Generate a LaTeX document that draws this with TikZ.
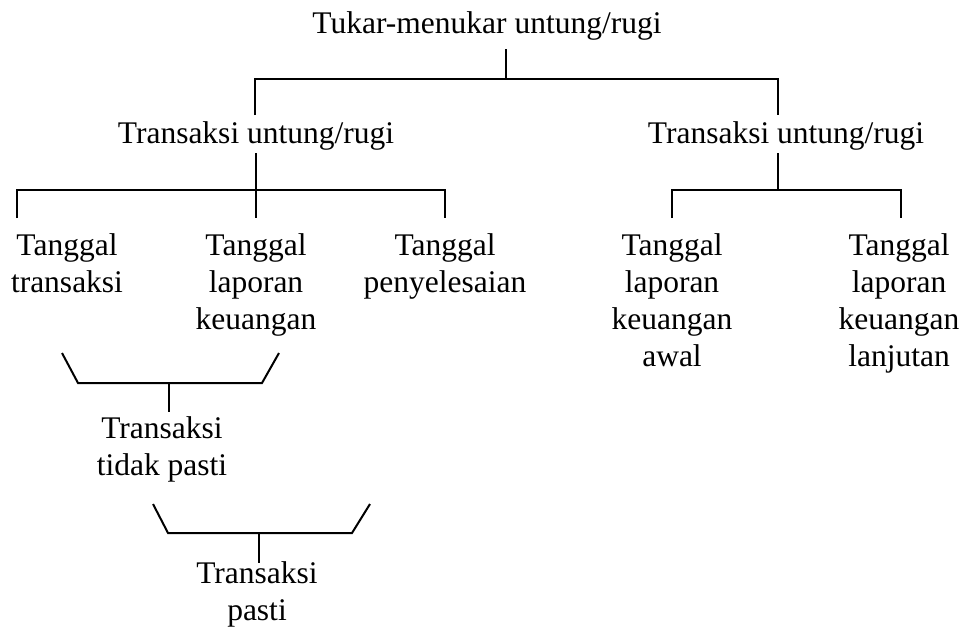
\documentclass[tikz,border=0pt]{standalone}
\usepackage{fontspec}
\setmainfont{Liberation Serif}
\begin{document}
\begin{tikzpicture}[x=1pt,y=-1pt,
  lbl/.style={anchor=base,align=center,inner sep=0pt,font=\fontsize{31.5}{37}\selectfont},
  conn/.style={line width=2pt,line cap=butt,line join=miter}]
\useasboundingbox (0,0) rectangle (964,630);
% texts (anchor = baseline of the last line)
\node[lbl] (root) at (487,33) {Tukar-menukar untung/rugi};
\node[lbl] (tl) at (256,143) {Transaksi untung/rugi};
\node[lbl] (tr) at (786,143) {Transaksi untung/rugi};
\node[lbl] (a1) at (67,292) {Tanggal\\transaksi};
\node[lbl] (a2) at (256,329) {Tanggal\\laporan\\keuangan};
\node[lbl] (a3) at (445,292) {Tanggal\\penyelesaian};
\node[lbl] (b1) at (672,366) {Tanggal\\laporan\\keuangan\\awal};
\node[lbl] (b2) at (899,366) {Tanggal\\laporan\\keuangan\\lanjutan};
\node[lbl] (c1) at (162,475) {Transaksi\\tidak pasti};
\node[lbl] (d1) at (257,620) {Transaksi\\pasti};
% coordinates
\coordinate (r0) at (506,49);  \coordinate (r1) at (506,79);
\coordinate (rl) at (255,79);  \coordinate (rr) at (778,79);
\coordinate (rlb) at (255,115); \coordinate (rrb) at (778,115);
\coordinate (l0) at (256,153); \coordinate (l1) at (256,190);
\coordinate (ll) at (17,190);  \coordinate (lr) at (445,190);
\coordinate (llb) at (17,218); \coordinate (lmb) at (256,218); \coordinate (lrb) at (445,218);
\coordinate (m0) at (778,153); \coordinate (m1) at (778,190);
\coordinate (ml) at (672,190); \coordinate (mr) at (901,190);
\coordinate (mlb) at (672,218); \coordinate (mrb) at (901,218);
\coordinate (p1) at (62,353); \coordinate (p2) at (78,383); \coordinate (p3) at (262,383); \coordinate (p4) at (279,353);
\coordinate (p5) at (169,383); \coordinate (p6) at (169,412);
\coordinate (q1) at (153,504); \coordinate (q2) at (168,533); \coordinate (q3) at (352,533); \coordinate (q4) at (370,504);
\coordinate (q5) at (259,533); \coordinate (q6) at (259,563);
% connectors
\draw[conn] (r0) -- (r1);
\draw[conn] (rlb) -- (rl) -- (rr) -- (rrb);
\draw[conn] (l0) -- (lmb);
\draw[conn] (llb) -- (ll) -- (lr) -- (lrb);
\draw[conn] (m0) -- (m1);
\draw[conn] (mlb) -- (ml) -- (mr) -- (mrb);
\draw[conn] (p1) -- (p2) -- (p3) -- (p4);
\draw[conn] (p5) -- (p6);
\draw[conn] (q1) -- (q2) -- (q3) -- (q4);
\draw[conn] (q5) -- (q6);
\end{tikzpicture}
\end{document}
